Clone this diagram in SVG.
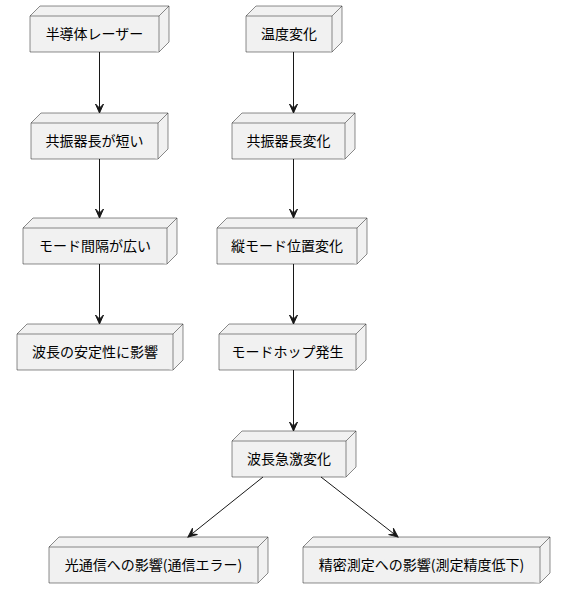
<svg xmlns="http://www.w3.org/2000/svg" width="566" height="599" viewBox="0 0 566 599">
<style>
.f{fill:#F1F1F1;stroke:#181818;stroke-width:0.5}
.t{font-family:"Noto Sans CJK JP","Liberation Sans",sans-serif;font-size:14px;fill:#000;text-anchor:middle}
.e{stroke:#181818;stroke-width:1;fill:none}
</style>
<defs>
<marker id="ah" markerUnits="userSpaceOnUse" markerWidth="12" markerHeight="10" viewBox="-10 -5 12 10" refX="0" refY="0" orient="auto">
<path d="M0,0 L-9,-4 L-5,0 L-9,4 Z" fill="#181818" stroke="#181818" stroke-width="1"/>
</marker>
</defs>
<g id="n1"><path class="f" d="M30,16 L40,6 L169,6 L169,42 L159,52 L30,52 Z"/><path class="f" d="M159,52 L159,16 L30,16 M159,16 L169,6"/><text class="t" x="94.5" y="39">半導体レーザー</text></g>
<g id="n2"><path class="f" d="M31,123 L41,113 L168,113 L168,149 L158,159 L31,159 Z"/><path class="f" d="M158,159 L158,123 L31,123 M158,123 L168,113"/><text class="t" x="94.5" y="146">共振器長が短い</text></g>
<g id="n3"><path class="f" d="M23,228 L33,218 L177,218 L177,254 L167,264 L23,264 Z"/><path class="f" d="M167,264 L167,228 L23,228 M167,228 L177,218"/><text class="t" x="95" y="251">モード間隔が広い</text></g>
<g id="n4"><path class="f" d="M17,334 L27,324 L183,324 L183,360 L173,370 L17,370 Z"/><path class="f" d="M173,370 L173,334 L17,334 M173,334 L183,324"/><text class="t" x="95" y="357">波長の安定性に影響</text></g>
<g id="n5"><path class="f" d="M246,16 L256,6 L342,6 L342,42 L332,52 L246,52 Z"/><path class="f" d="M332,52 L332,16 L246,16 M332,16 L342,6"/><text class="t" x="289" y="39">温度変化</text></g>
<g id="n6"><path class="f" d="M232,123 L242,113 L355,113 L355,149 L345,159 L232,159 Z"/><path class="f" d="M345,159 L345,123 L232,123 M345,123 L355,113"/><text class="t" x="288.5" y="146">共振器長変化</text></g>
<g id="n7"><path class="f" d="M217,228 L227,218 L367,218 L367,254 L357,264 L217,264 Z"/><path class="f" d="M357,264 L357,228 L217,228 M357,228 L367,218"/><text class="t" x="287" y="251">縦モード位置変化</text></g>
<g id="n8"><path class="f" d="M219,334 L229,324 L366,324 L366,360 L356,370 L219,370 Z"/><path class="f" d="M356,370 L356,334 L219,334 M356,334 L366,324"/><text class="t" x="287.5" y="357">モードホップ発生</text></g>
<g id="n9"><path class="f" d="M232,441 L242,431 L356,431 L356,467 L346,477 L232,477 Z"/><path class="f" d="M346,477 L346,441 L232,441 M346,441 L356,431"/><text class="t" x="289" y="464">波長急激変化</text></g>
<g id="n10"><path class="f" d="M49,547 L59,537 L268,537 L268,573 L258,583 L49,583 Z"/><path class="f" d="M258,583 L258,547 L49,547 M258,547 L268,537"/><text class="t" x="153.5" y="570">光通信への影響(通信エラー)</text></g>
<g id="n11"><path class="f" d="M303,547 L313,537 L550,537 L550,573 L540,583 L303,583 Z"/><path class="f" d="M540,583 L540,547 L303,547 M540,547 L550,537"/><text class="t" x="421.5" y="570">精密測定への影響(測定精度低下)</text></g>
<g id="connectors">
<path class="e" d="M99.5,52 L99.5,113" marker-end="url(#ah)"/>
<path class="e" d="M99.5,159 L99.5,218" marker-end="url(#ah)"/>
<path class="e" d="M99.5,264 L99.5,324" marker-end="url(#ah)"/>
<path class="e" d="M293.5,52 L293.5,113" marker-end="url(#ah)"/>
<path class="e" d="M293.5,159 L293.5,218" marker-end="url(#ah)"/>
<path class="e" d="M293.5,264 L293.5,324" marker-end="url(#ah)"/>
<path class="e" d="M293.5,370 L293.5,431" marker-end="url(#ah)"/>
<path class="e" d="M263,477 L188,537" marker-end="url(#ah)"/>
<path class="e" d="M321,477 L398,537" marker-end="url(#ah)"/>
</g>
</svg>
